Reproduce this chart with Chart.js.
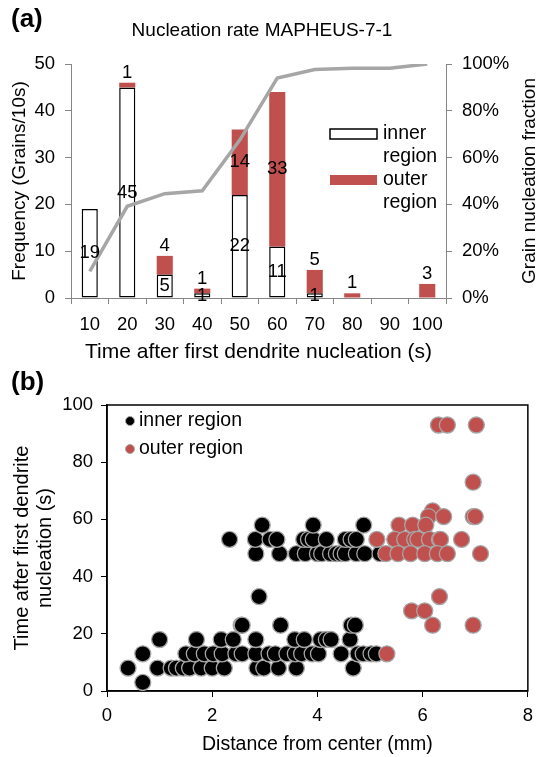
<!DOCTYPE html>
<html><head><meta charset="utf-8">
<script src="https://cdn.jsdelivr.net/npm/chart.js@4.4.0/dist/chart.umd.min.js"></script>
<style>
html,body{margin:0;padding:0;background:#fff;width:541px;height:757px;overflow:hidden}
#wa{position:absolute;left:0;top:0;width:541px;height:370px}
#wb{position:absolute;left:0;top:370px;width:541px;height:387px}
</style></head><body>
<div id="wa"><canvas id="ca"></canvas></div>
<div id="wb"><canvas id="cb"></canvas></div>
<script>
// ---------- Panel (a) data ----------
const categories = ['10','20','30','40','50','60','70','80','90','100'];
const innerCounts = [19,45,5,1,22,11,1,0,0,0];
const outerCounts = [0,1,4,1,14,33,5,1,0,3];
const cumulativeFraction = [11.4,39.2,44.6,45.8,67.5,94.0,97.6,98.2,98.2,100];
const fractionTickLabels = {0:'0%',20:'20%',40:'40%',60:'60%',80:'80%',100:'100%'};

// ---------- Panel (b) data ----------
const innerX = [0.68,
 0.40,0.96,1.22,1.32,1.45,1.57,1.79,2.0,2.23,2.85,2.98,3.26,3.6,4.68,
 0.68,1.5,1.66,1.85,2.02,2.19,2.45,2.57,2.83,3.08,3.2,3.42,3.58,3.7,3.9,4.02,4.45,4.77,4.87,5.02,5.12,
 1.0,1.7,2.17,2.4,2.83,3.57,3.75,4.06,4.17,4.26,4.62,
 2.55,2.57,3.3,4.64,4.72,
 2.89,
 2.83,3.28,3.6,3.77,4.0,4.08,4.25,4.36,4.45,4.53,4.74,4.9,5.19,
 2.33,2.82,3.1,3.23,3.74,3.83,3.92,4.17,4.53,4.64,4.74,
 2.95,3.92,4.88];
const innerY = [3,
 8,8,8,8,8,8,8,8,8,8,8,8,8,8,
 13,13,13,13,13,13,13,13,13,13,13,13,13,13,13,13,13,13,13,13,13,
 18,18,18,18,18,18,18,18,18,18,18,
 23,23,23,23,23,
 33,
 48,48,48,48,48,48,48,48,48,48,48,48,48,
 53,53,53,53,53,53,53,53,53,53,53,
 58,58,58];
const outerX = [6.3,6.47,7.02,
 6.96,
 6.19,
 6.11,6.4,6.96,7.0,
 5.55,5.81,6.06,
 5.13,5.47,5.66,5.85,5.91,6.13,6.32,6.34,6.74,
 5.3,5.53,5.77,6.04,6.28,6.47,7.1,
 6.32,
 5.79,6.04,
 6.19,6.96,
 5.32];
const outerY = [93,93,93,
 73,
 63,
 61,61,61,61,
 58,58,58,
 53,53,53,53,53,53,53,53,53,
 48,48,48,48,48,48,48,
 33,
 28,28,
 23,23,
 13];

const FONT = '"Liberation Sans", Arial, sans-serif';
const RED = '#C0504D';
const AXIS_GRAY = '#868686';
const TICK_SIZE = 18.5;
Chart.defaults.font.family = FONT;
Chart.defaults.font.size = TICK_SIZE;
Chart.defaults.color = '#000';

// ---------- Panel (a) ----------
const panelA = {
  id: 'panelA',
  afterDatasetsDraw(chart) {
    const ctx = chart.ctx, ca = chart.chartArea;
    ctx.save();
    ctx.fillStyle = '#000';
    ctx.font = '18.5px ' + FONT;
    ctx.textAlign = 'center';
    ctx.textBaseline = 'middle';
    const mi = chart.getDatasetMeta(0), mo = chart.getDatasetMeta(1);
    mi.data.forEach((bar, i) => {
      const v = innerCounts[i];
      if (!v) return;
      const p = bar.getProps(['x','y','base'], true);
      ctx.fillText(String(v), p.x, (p.y + p.base) / 2);
    });
    mo.data.forEach((bar, i) => {
      const v = outerCounts[i];
      if (!v) return;
      const p = bar.getProps(['x','y','base'], true);
      if (v >= 10) ctx.fillText(String(v), p.x, (p.y + p.base) / 2);
      else ctx.fillText(String(v), p.x, p.y - 10);
    });
    // legend
    const lx = 330, ly = 129;
    ctx.fillStyle = '#fff'; ctx.strokeStyle = '#000'; ctx.lineWidth = 1.5;
    ctx.fillRect(lx, ly, 47, 10); ctx.strokeRect(lx, ly, 47, 10);
    ctx.fillStyle = RED; ctx.fillRect(lx, ly + 46, 47, 10);
    ctx.fillStyle = '#000'; ctx.textAlign = 'left';
    ctx.font = '19.5px ' + FONT;
    ctx.fillText('inner', lx + 53, ly + 5);
    ctx.fillText('region', lx + 53, ly + 28);
    ctx.fillText('outer', lx + 53, ly + 51);
    ctx.fillText('region', lx + 53, ly + 74);
    // titles
    ctx.textAlign = 'center';
    ctx.font = '19px ' + FONT;
    ctx.fillText('Nucleation rate MAPHEUS-7-1', 262, 31);
    ctx.font = '21px ' + FONT;
    ctx.fillText('Time after first dendrite nucleation (s)', (ca.left + ca.right) / 2, 352);
    ctx.save();
    ctx.translate(20, (ca.top + ca.bottom) / 2); ctx.rotate(-Math.PI / 2);
    ctx.font = '19px ' + FONT;
    ctx.fillText('Frequency (Grains/10s)', 0, 0);
    ctx.restore();
    ctx.save();
    ctx.translate(530, (ca.top + ca.bottom) / 2); ctx.rotate(-Math.PI / 2);
    ctx.font = '19px ' + FONT;
    ctx.fillText('Grain nucleation fraction', 0, 0);
    ctx.restore();
    ctx.font = 'bold 26px ' + FONT;
    ctx.textAlign = 'left';
    ctx.fillText('(a)', 11, 20);
    ctx.restore();
  }
};

new Chart(document.getElementById('ca'), {
  type: 'bar',
  data: {
    labels: categories,
    datasets: [
      { label: 'inner region', data: innerCounts.map(v => v || null), backgroundColor: '#fff',
        borderColor: '#000', borderWidth: 1.5, borderSkipped: false, yAxisID: 'y', order: 1,
        barPercentage: 0.43, categoryPercentage: 1 },
      { label: 'outer region', data: outerCounts.map(v => v || null), backgroundColor: RED,
        borderWidth: 0, yAxisID: 'y', order: 2, barPercentage: 0.43, categoryPercentage: 1 },
      { type: 'line', label: 'fraction', data: cumulativeFraction, borderColor: '#A6A6A6',
        borderWidth: 3.5, pointRadius: 0, tension: 0, yAxisID: 'y2', order: 0 }
    ]
  },
  options: {
    responsive: true, maintainAspectRatio: false, animation: false, devicePixelRatio: 1,
    events: [],
    layout: { padding: { top: 64, left: 0, right: 0, bottom: 0 } },
    plugins: { legend: { display: false }, tooltip: { enabled: false }, title: { display: false } },
    scales: {
      x: {
        stacked: true, offset: true,
        grid: { offset: true, drawOnChartArea: false, drawTicks: true, tickLength: 6, color: AXIS_GRAY },
        border: { color: AXIS_GRAY, width: 1 },
        ticks: { padding: 10, color: '#000', font: { size: TICK_SIZE }, maxRotation: 0, autoSkip: false },
        afterFit(s) { s.height = 72; }
      },
      y: {
        stacked: true, position: 'left', min: 0, max: 50,
        grid: { drawOnChartArea: false, tickLength: 6, color: AXIS_GRAY },
        border: { color: AXIS_GRAY, width: 1 },
        ticks: { stepSize: 10, padding: 10, color: '#000', font: { size: TICK_SIZE } },
        afterFit(s) { s.width = 71; }
      },
      y2: {
        position: 'right', min: 0, max: 100,
        grid: { drawOnChartArea: false, tickLength: 6, color: AXIS_GRAY },
        border: { color: AXIS_GRAY, width: 1 },
        ticks: { stepSize: 20, padding: 10, color: '#000', font: { size: TICK_SIZE },
                 callback: v => fractionTickLabels[v] },
        afterFit(s) { s.width = 95; }
      }
    }
  },
  plugins: [panelA]
});

// ---------- Panel (b) ----------
const panelB = {
  id: 'panelB',
  beforeDatasetsDraw(chart) {
    const ctx = chart.ctx, ca = chart.chartArea;
    ctx.save();
    ctx.strokeStyle = '#000'; ctx.lineWidth = 1.5;
    ctx.strokeRect(ca.left, ca.top, ca.right - ca.left, ca.bottom - ca.top);
    ctx.restore();
  },
  afterDatasetsDraw(chart) {
    const ctx = chart.ctx, ca = chart.chartArea;
    ctx.save();
    ctx.fillStyle = '#000';
    ctx.textBaseline = 'middle';
    // legend
    const lx = ca.left + 23;
    ctx.beginPath(); ctx.arc(lx, ca.top + 16, 4.5, 0, Math.PI * 2); ctx.fillStyle = '#000'; ctx.fill();
    ctx.strokeStyle = '#A6A6A6'; ctx.lineWidth = 1; ctx.stroke();
    ctx.beginPath(); ctx.arc(lx, ca.top + 44, 4.5, 0, Math.PI * 2); ctx.fillStyle = RED; ctx.fill();
    ctx.stroke();
    ctx.fillStyle = '#000';
    ctx.font = '19.5px ' + FONT;
    ctx.textAlign = 'left';
    ctx.fillText('inner region', lx + 9, ca.top + 16);
    ctx.fillText('outer region', lx + 9, ca.top + 44);
    // axis titles
    ctx.textAlign = 'center';
    ctx.font = '19.5px ' + FONT;
    ctx.fillText('Distance from center (mm)', (ca.left + ca.right) / 2, 375);
    ctx.save();
    ctx.translate(22, (ca.top + ca.bottom) / 2); ctx.rotate(-Math.PI / 2);
    ctx.font = '20px ' + FONT;
    ctx.fillText('Time after first dendrite', 0, 0);
    ctx.fillText('nucleation (s)', 0, 23);
    ctx.restore();
    ctx.font = 'bold 26px ' + FONT;
    ctx.textAlign = 'left';
    ctx.fillText('(b)', 11, 13);
    ctx.restore();
  }
};

new Chart(document.getElementById('cb'), {
  type: 'scatter',
  data: {
    datasets: [
      { label: 'outer region', data: outerX.map((x, i) => ({ x, y: outerY[i] })),
        backgroundColor: RED, borderColor: '#A6A6A6', borderWidth: 1.3, pointRadius: 8, order: 0 },
      { label: 'inner region', data: innerX.map((x, i) => ({ x, y: innerY[i] })),
        backgroundColor: '#000', borderColor: '#A6A6A6', borderWidth: 1.3, pointRadius: 8, order: 1 }
    ]
  },
  options: {
    responsive: true, maintainAspectRatio: false, animation: false, devicePixelRatio: 1,
    events: [],
    layout: { padding: { top: 35, left: 0, right: 9, bottom: 0 } },
    plugins: { legend: { display: false }, tooltip: { enabled: false } },
    scales: {
      x: {
        type: 'linear', min: 0, max: 8,
        grid: { drawOnChartArea: false, tickLength: 6, color: '#000' },
        border: { color: '#000', width: 1.5 },
        ticks: { stepSize: 2, padding: 8, color: '#000', font: { size: TICK_SIZE } },
        afterFit(s) { s.height = 66; }
      },
      y: {
        min: 0, max: 100,
        grid: { drawOnChartArea: false, tickLength: 6, color: '#000' },
        border: { color: '#000', width: 1.5 },
        ticks: { stepSize: 20, padding: 8, color: '#000', font: { size: TICK_SIZE } },
        afterFit(s) { s.width = 107; }
      }
    }
  },
  plugins: [panelB]
});
</script>
</body></html>
